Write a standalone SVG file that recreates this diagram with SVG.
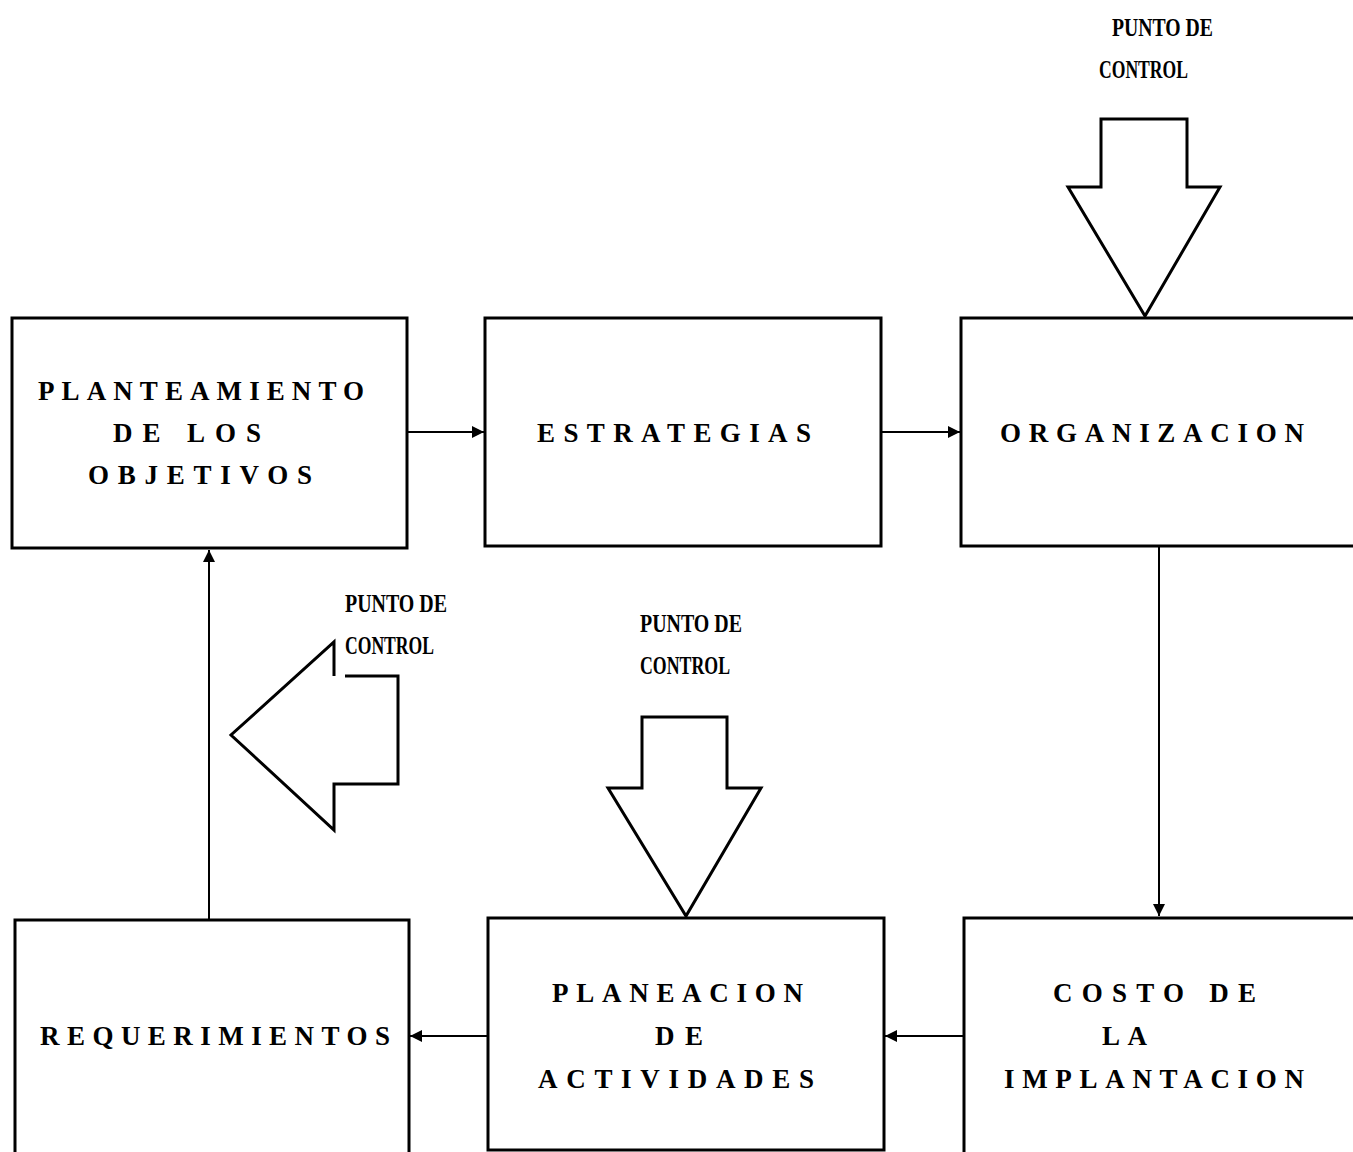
<svg xmlns="http://www.w3.org/2000/svg" width="1353" height="1152" viewBox="0 0 1353 1152">
  <style>
    .box { fill: #fff; stroke: #000; stroke-width: 3; }
    .lbl { font-family: "Liberation Serif", "DejaVu Serif", serif; font-weight: bold; font-size: 27px; fill: #000; }
    .pc { font-family: "Liberation Serif", "DejaVu Serif", serif; font-weight: bold; font-size: 25px; fill: #000; }
    .link { fill: none; stroke: #000; stroke-width: 2; }
    .big { fill: #fff; stroke: #000; stroke-width: 3; stroke-linejoin: miter; }
  </style>
  <defs>
    <marker id="tip" viewBox="0 0 10 10" refX="10" refY="5" markerWidth="6" markerHeight="6" markerUnits="strokeWidth" orient="auto">
      <path d="M0,0 L10,5 L0,10 Z" fill="#000"/>
    </marker>
  </defs>
  <rect width="1353" height="1152" fill="#fff"/>

  <!-- connectors -->
  <g id="connectors">
    <line class="link" x1="407" y1="432" x2="484" y2="432" marker-end="url(#tip)"/>
    <line class="link" x1="881" y1="432" x2="960" y2="432" marker-end="url(#tip)"/>
    <line class="link" x1="1159" y1="546" x2="1159" y2="916" marker-end="url(#tip)"/>
    <line class="link" x1="964" y1="1036" x2="885" y2="1036" marker-end="url(#tip)"/>
    <line class="link" x1="488" y1="1036" x2="410" y2="1036" marker-end="url(#tip)"/>
    <line class="link" x1="209" y1="920" x2="209" y2="550" marker-end="url(#tip)"/>
  </g>

  <!-- process boxes -->
  <g id="planteamiento">
    <rect class="box" x="12" y="318" width="395" height="230"/>
    <text class="lbl" x="38" y="400" textLength="326">PLANTEAMIENTO</text>
    <text class="lbl" x="113" y="442" textLength="148">DE LOS</text>
    <text class="lbl" x="88" y="484" textLength="224">OBJETIVOS</text>
  </g>
  <g id="estrategias">
    <rect class="box" x="485" y="318" width="396" height="228"/>
    <text class="lbl" x="537" y="442" textLength="274">ESTRATEGIAS</text>
  </g>
  <g id="organizacion">
    <rect class="box" x="961" y="318" width="420" height="228"/>
    <text class="lbl" x="1000" y="442" textLength="304">ORGANIZACION</text>
  </g>
  <g id="requerimientos">
    <rect class="box" x="15" y="920" width="394" height="250"/>
    <text class="lbl" x="40" y="1045" textLength="350">REQUERIMIENTOS</text>
  </g>
  <g id="planeacion">
    <rect class="box" x="488" y="918" width="396" height="232"/>
    <text class="lbl" x="552" y="1002" textLength="251">PLANEACION</text>
    <text class="lbl" x="655" y="1045" textLength="48">DE</text>
    <text class="lbl" x="538" y="1088" textLength="276">ACTIVIDADES</text>
  </g>
  <g id="costo">
    <rect class="box" x="964" y="918" width="420" height="250"/>
    <text class="lbl" x="1053" y="1002" textLength="203">COSTO DE</text>
    <text class="lbl" x="1102" y="1045" textLength="45">LA</text>
    <text class="lbl" x="1004" y="1088" textLength="300">IMPLANTACION</text>
  </g>

  <!-- control points -->
  <g id="control-top">
    <path class="big" d="M1101,187 L1101,119 L1187,119 L1187,187 L1220,187 L1145,316 L1068,187 Z"/>
    <text class="pc" x="1112" y="36" textLength="101" lengthAdjust="spacingAndGlyphs">PUNTO DE</text>
    <text class="pc" x="1099" y="78" textLength="89" lengthAdjust="spacingAndGlyphs">CONTROL</text>
  </g>
  <g id="control-middle">
    <path class="big" d="M642,788 L642,717 L727,717 L727,788 L761,788 L686,916 L608,788 Z"/>
    <text class="pc" x="640" y="632" textLength="102" lengthAdjust="spacingAndGlyphs">PUNTO DE</text>
    <text class="pc" x="640" y="674" textLength="90" lengthAdjust="spacingAndGlyphs">CONTROL</text>
  </g>
  <g id="control-left">
    <path class="big" d="M334,676 L334,642 L231,735 L334,830 L334,784 L398,784 L398,676 L345,676"/>
    <text class="pc" x="345" y="612" textLength="102" lengthAdjust="spacingAndGlyphs">PUNTO DE</text>
    <text class="pc" x="345" y="654" textLength="89" lengthAdjust="spacingAndGlyphs">CONTROL</text>
  </g>
</svg>
